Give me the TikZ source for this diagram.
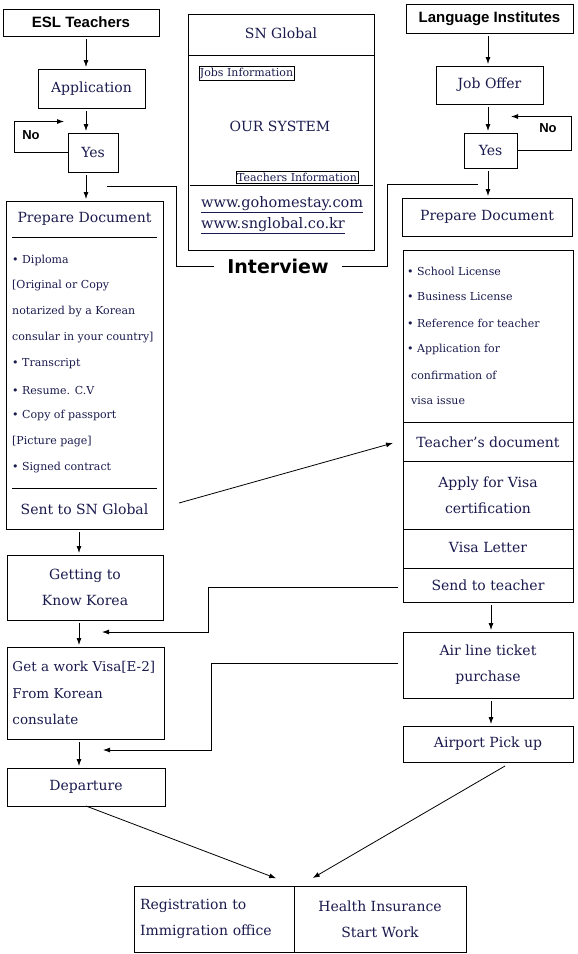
\documentclass[tikz,border=0pt]{standalone}
\usepackage{fontspec}
\setmainfont{DejaVu Serif}
\setsansfont{Liberation Sans}
\newfontfamily\heavyfont{DejaVu Sans}
\usetikzlibrary{arrows.meta,calc}
\definecolor{inkblue}{RGB}{26,26,78}
\newcommand*\linew{0.8pt}
\tikzset{
    box/.style      = {draw, line width=\linew, inner sep=0pt, outer sep=0pt,
                      text=inkblue, align=center, font=\fontsize{14}{26}\selectfont},
    headbox/.style  = {box, text=black, font=\sffamily\bfseries\fontsize{15}{18}\selectfont},
    boxtext/.style  = {inner sep=0pt, text=inkblue, align=center, font=\fontsize{14}{26}\selectfont},
    listtext/.style = {inner sep=0pt, text=inkblue, anchor=west, font=\fontsize{11}{13}\selectfont},
    tagbox/.style   = {draw, line width=0.6pt, inner xsep=1pt, inner ysep=1.5pt,
                      text=inkblue, font=\fontsize{11}{12}\selectfont},
    weblink/.style  = {inner sep=0pt, text=inkblue, anchor=west, font=\fontsize{14.5}{16}\selectfont},
    notext/.style   = {inner sep=0pt, font=\sffamily\bfseries\fontsize{13}{15}\selectfont},
    wire/.style     = {line width=\linew},
    arr/.style      = {wire, -{Latex[length=7pt,width=5pt]}, shorten <=3pt, shorten >=2pt},
  }

\begin{document}
\begin{tikzpicture}[x=1pt, y=-1pt]
    \useasboundingbox (0,0) rectangle (578,954);

    % left column: teachers
    \node[headbox, minimum width=156, minimum height=27] (esl) at (81,22.5) {ESL Teachers};
    \node[box, minimum width=107, minimum height=39] (app) at (91.5,88.5) {Application};
    \node[box, minimum width=50, minimum height=39] (lyes) at (93,152.5) {Yes};
    \node[notext] (lno) at (31,135) {No};
    \node[box, minimum width=157, minimum height=328] (ldoc) at (84.5,365) {};
    \node[boxtext] (ldoctitle) at (84.5,219) {Prepare Document};
    \foreach \t [count=\i from 0] in {{• Diploma},{[Original or Copy},{notarized by a Korean},
        {consular in your country]},{• Transcript},{• Resume. C.V},{• Copy of passport},
        {[Picture page]},{• Signed contract}} {
        \node[listtext] (litem\i) at (12,260+26*\i) {\t};
    }
    \node[boxtext] (sent) at (84.5,509) {Sent to SN Global};
    \node[box, minimum width=156, minimum height=65] (know) at (85,587.5) {Getting to\\Know Korea};
    \node[box, minimum width=157, minimum height=92, text width=146, align=left,
        font=\fontsize{13.5}{26.5}\selectfont] (visa) at (85.5,693)
        {Get a work Visa[E-2]\\From Korean\\consulate};
    \node[box, minimum width=158, minimum height=38] (depart) at (86,787) {Departure};

    % middle: our system
    \node[box, minimum width=186, minimum height=236] (sn) at (281,132) {};
    \node[boxtext] (sntitle) at (281,33) {SN Global};
    \node[tagbox] (jobs) at (246.5,73.5) {Jobs Information};
    \node[boxtext] (oursys) at (280,126) {OUR SYSTEM};
    \node[tagbox] (tinfo) at (297,177.5) {Teachers Information};
    \node[weblink] (web1) at (201,205) {\underline{www.gohomestay.com}};
    \node[weblink] (web2) at (201,226) {\underline{www.snglobal.co.kr}};
    \node[inner xsep=13pt, inner ysep=0pt, font=\heavyfont\bfseries\fontsize{19}{22}\selectfont]
        (interview) at (278,266) {Interview};

    % right column: institutes
    \node[headbox, minimum width=167, minimum height=29] (lang) at (489.5,18.5) {Language Institutes};
    \node[box, minimum width=107, minimum height=38] (joboffer) at (489.5,85) {Job Offer};
    \node[box, minimum width=53, minimum height=35] (ryes) at (490.5,150.5) {Yes};
    \node[notext] (rno) at (548,128) {No};
    \node[box, minimum width=170, minimum height=38] (rdoc) at (487,217) {Prepare Document};
    \node[box, minimum width=170, minimum height=352] (rreq) at (488,426) {};
    \foreach \t [count=\i from 0] in {{• School License},{• Business License},{• Reference for teacher},
        {• Application for},{\hspace{4pt}confirmation of},{\hspace{4pt}visa issue}} {
        \node[listtext] (ritem\i) at (407,271+26*\i) {\t};
    }
    \node[boxtext] (tdoc) at (488,442) {Teacher’s document};
    \node[boxtext] (applyv) at (488,495) {Apply for Visa\\certification};
    \node[boxtext] (vletter) at (488,547) {Visa Letter};
    \node[boxtext] (sendt) at (488,585) {Send to teacher};
    \node[box, minimum width=170, minimum height=66] (air) at (488,665) {Air line ticket\\purchase};
    \node[box, minimum width=170, minimum height=36] (pick) at (488,744) {Airport Pick up};

    % bottom
    \node[box, minimum width=160, minimum height=66, text width=148, align=left] (reg) at (214,919)
        {Registration to\\Immigration office};
    \node[box, minimum width=172, minimum height=66] (health) at (380,919) {Health Insurance\\Start Work};

    % rules inside the boxes
    \draw[wire] ($(ldoc.north west)+(6,36)$) -- ($(ldoc.north east)+(-6,36)$);
    \draw[wire] ($(ldoc.north west)+(6,287)$) -- ($(ldoc.north east)+(-6,287)$);
    \draw[wire] ($(sn.north west)+(0,41)$) -- ($(sn.north east)+(0,41)$);
    \draw[wire] ($(sn.north west)+(2,171)$) -- ($(sn.north east)+(-1,171)$);
    \foreach \d in {172,211,279,318} {
        \draw[wire] ($(rreq.north west)+(0,\d)$) -- ($(rreq.north east)+(0,\d)$);
    }

    % columns of the straight arrows
    \coordinate (lcol) at (86,0);
    \coordinate (lcolb) at (79,0);
    \coordinate (rcol) at (488,0);
    \coordinate (rcolb) at (491,0);

    \draw[arr] (esl.south -| lcol) -- (app.north -| lcol);
    \draw[arr] (app.south -| lcol) -- (lyes.north -| lcol);
    \draw[arr] (lyes.south -| lcol) -- (ldoc.north -| lcol);
    \draw[arr] (ldoc.south -| lcolb) -- (know.north -| lcolb);
    \draw[arr] (know.south -| lcolb) -- (visa.north -| lcolb);
    \draw[arr] (visa.south -| lcolb) -- (depart.north -| lcolb);
    \draw[arr] (lang.south -| rcol) -- (joboffer.north -| rcol);
    \draw[arr] (joboffer.south -| rcol) -- (ryes.north -| rcol);
    \draw[arr] (ryes.south -| rcol) -- (rdoc.north -| rcol);
    \draw[arr] (rreq.south -| rcolb) -- (air.north -| rcolb);
    \draw[arr] (air.south -| rcolb) -- (pick.north -| rcolb);

    % "No" loops
    \draw[arr, shorten <=0pt] (lyes.west) -| ++(-54,-31) -- ++(52,0);
    \draw[arr, shorten <=0pt] (ryes.east) -| ++(54,-34) -- ++(-62,0);

    % interview lines
    \coordinate (ljoin) at ($(lyes.south)+(14,14)$);
    \coordinate (rjoin) at ($(ryes.south)+(-13,16)$);
    \draw[wire] (ljoin) -- ++(69,0) |- (interview.west);
    \draw[wire] (interview.east) -- ++(46,0) |- (rjoin);

    % cross connectors
    \draw[arr, shorten <=0pt, shorten >=0pt] ($(ldoc.east |- sent)+(16,-6)$) -- ($(rreq.west |- tdoc)+(-10,1)$);
    \draw[arr, shorten <=0pt, shorten >=0pt] ($(rreq.west |- sendt)+(-5,2)$) -- ++(-190,0)
        |- ($(visa.north)+(16.5,-15)$);
    \draw[arr, shorten <=0pt, shorten >=0pt] ($(air.west)+(-5,-2)$) -- ++(-187,0)
        |- ($(depart.north)+(17,-18)$);
    \draw[arr, shorten <=0pt] (depart.south) -- ($(reg.north east)+(-16,-7)$);
    \draw[arr, shorten <=0pt] ($(pick.south)+(17,4)$) -- ($(health.north west)+(17,-7)$);
\end{tikzpicture}
\end{document}
